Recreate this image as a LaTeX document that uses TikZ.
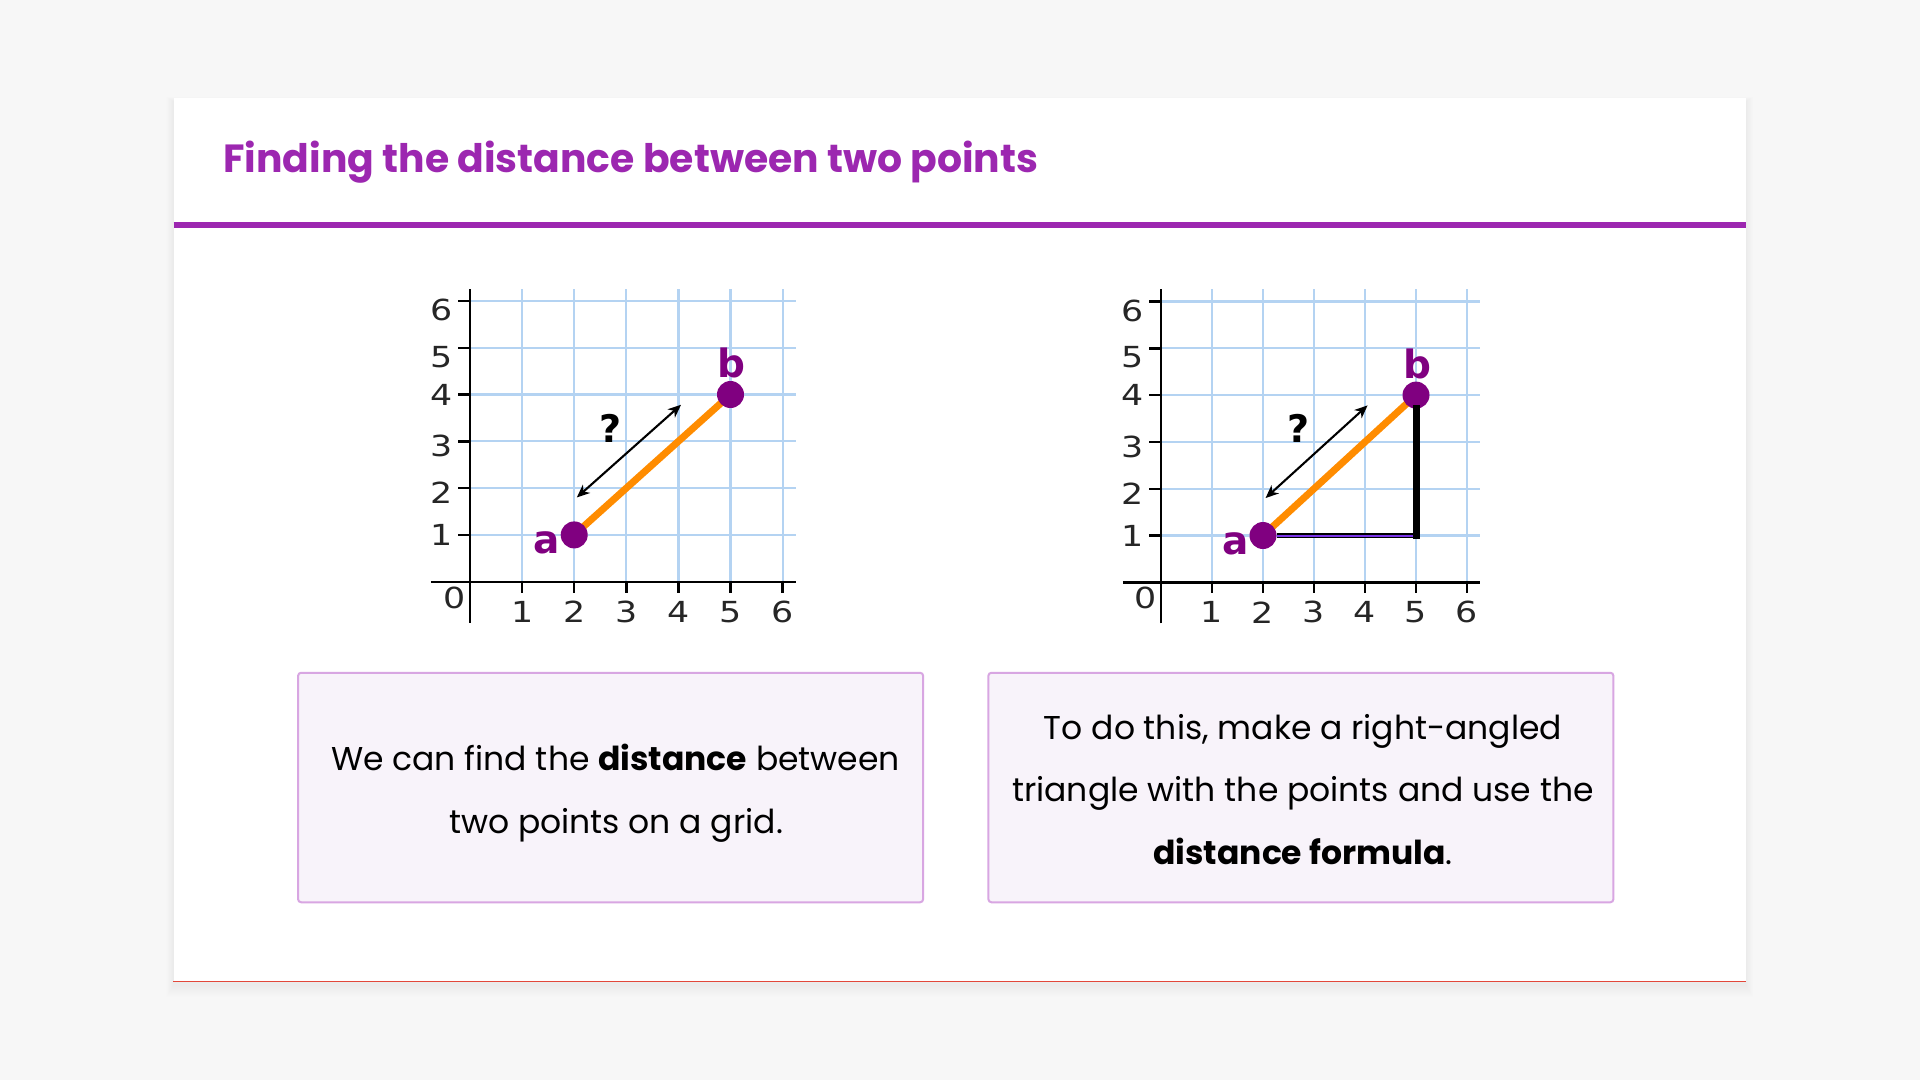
\documentclass[tikz,border=0pt]{standalone}
\usepackage{fontspec}
\setmainfont{Poppins}
\newfontfamily\gfont{DejaVu Sans}
\usetikzlibrary{arrows.meta}
\definecolor{pagebg}{HTML}{F7F7F7}
\definecolor{titlecol}{HTML}{9C27B0}
\definecolor{gridcol}{RGB}{180,211,242}
\definecolor{dotcol}{HTML}{800080}
\definecolor{orangecol}{RGB}{255,140,0}
\definecolor{boxborder}{RGB}{216,166,226}
\definecolor{boxfill}{HTML}{F8F3FA}
\definecolor{redline}{RGB}{226,72,58}
\definecolor{stripe}{RGB}{122,52,232}
\newcommand\widedigit[1]{\scalebox{1.2}[1]{#1}}
\tikzset{
  gridline/.style={draw=gridcol, line width=2.2pt},
  axisline/.style={draw=black, line width=2.4pt},
  ticklabel/.style={font=\gfont\fontsize{29}{29}\selectfont, inner sep=0pt, text=black!85},
  ptlabel/.style={font=\gfont\bfseries\fontsize{39}{39}\selectfont, inner sep=0pt, text=dotcol},
  qmark/.style={font=\gfont\bfseries\fontsize{38}{38}\selectfont, inner sep=0pt},
  dot/.style={circle, fill=dotcol, minimum size=27pt, inner sep=0pt},
  seg/.style={draw=orangecol, line width=7pt},
  dblarrow/.style={draw=black, line width=2.1pt, {Stealth[length=13pt,width=11pt,inset=4pt]}-{Stealth[length=13pt,width=11pt,inset=4pt]}},
  card/.style={fill=white, minimum width=1572.5pt, minimum height=883.5pt, inner sep=0pt},
  infobox/.style={draw=boxborder, fill=boxfill, line width=2pt, rounded corners=3pt, minimum width=625pt, minimum height=229.5pt, inner sep=0pt},
  bodytext/.style={font=\fontsize{33}{33}\selectfont, anchor=base, inner sep=0pt},
  titletext/.style={font=\bfseries\fontsize{39.3}{39.3}\selectfont, text=titlecol, anchor=base west, inner sep=0pt},
  pics/coordgrid/.style={code={
    \foreach \i in {1,...,6} {
      \draw[gridline] (\i,0) -- (\i,6.26);
      \draw[gridline] (0,\i) -- (6.26,\i);
    }
    \draw[axisline] (0,-0.88) -- (0,6.26);
    \draw[axisline] (-0.75,0) -- (6.26,0);
    \foreach \i/\o in {1/0,2/5,3/5,4/0,5/9,6/9} {
      \draw[axisline] (0,\i) -- ++(-12pt,0);
      \draw[axisline] (\i,0) -- ++(0,-11pt);
      \node[ticklabel, xshift=-28pt, yshift=-\o pt] (-y\i) at (0,\i) {\widedigit{\i}};
      \node[ticklabel, yshift=-30pt] (-x\i) at (\i,0) {\widedigit{\i}};
    }
    \node[ticklabel, xshift=-15pt, yshift=-16pt] (-o) at (0,0) {\widedigit{0}};
    \coordinate (-pa) at (2,1);
    \coordinate (-pb) at (5,4);
    \draw[seg] (-pa) -- (-pb);
    \coordinate (-s) at (2.05,1.8);
    \coordinate (-e) at (4.05,3.78);
    \draw[dblarrow] (-s) -- (-e);
    \node[qmark] (-q) at (2.7,3.28) {?};
    \node[dot] (-a) at (-pa) {};
    \node[dot] (-b) at (-pb) {};
    \node[ptlabel] (-la) at (1.47,0.83) {a};
    \node[ptlabel] (-lb) at (5.02,4.67) {b};
  }}
}
\begin{document}
\begin{tikzpicture}[x=1pt,y=-1pt]
\useasboundingbox (0,0) rectangle (1920,1080);
\fill[pagebg] (0,0) rectangle (1920,1080);
% card shadow
\foreach \k in {1,...,12} {
  \fill[black, opacity=0.004] (173.5-\k*0.6,97.5-\k*0.4+4) rectangle (1746+\k*0.6,981+\k+4);
}
\node[card] (card) at (959.75,539.25) {};
\draw[redline, line width=1.1pt] (card.south west) -- (card.south east);
\node[titletext] (title) at (223,172.5) {Finding the distance between two points};
\draw[titlecol, line width=6pt] (173.5,225) -- (1746,225);

\begin{scope}[shift={(470,581.7)}, x=52.1pt, y=46.8pt]
  \pic (g1) at (0,0) {coordgrid};
\end{scope}
\begin{scope}[shift={(1161,582.3)}, x=51pt, y=46.8pt]
  \pic (g2) at (0,0) {coordgrid};
\end{scope}

% right-angled triangle in the second grid
\draw[black, line width=7pt, line cap=rect] (g2-b.south) -- (g2-a -| g2-b);
\draw[black, line width=5pt] (g2-a.east) -- ([xshift=3.5pt]g2-a -| g2-b);
\draw[stripe, line width=2pt] (g2-a.east) -- ([xshift=-3.5pt]g2-a -| g2-b);

\node[infobox] (box1) at (610.6,787.5) {};
\node[infobox] (box2) at (1300.9,787.5) {};
\node[bodytext] (t1a) at (615.5,770) {We can find the \textbf{distance} between};
\node[bodytext] (t1b) at (616,833) {two points on a grid.};
\node[bodytext] (t2a) at (1303,739.3) {To do this, make a right-angled};
\node[bodytext] (t2b) at (1303,801.7) {triangle with the points and use the};
\node[bodytext] (t2c) at (1303,864) {\textbf{distance formula}.};
\end{tikzpicture}
\end{document}
